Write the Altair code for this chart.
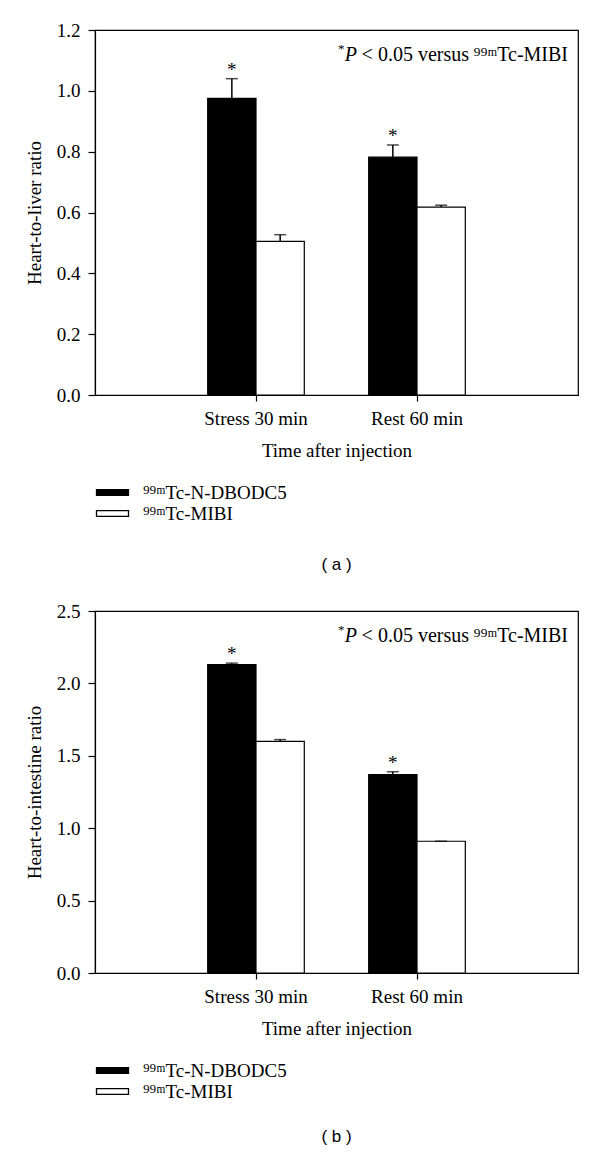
import altair as alt
import pandas as pd

categories = ["Stress 30 min", "Rest 60 min"]
series = ["⁹⁹ᵐTc-N-DBODC5", "⁹⁹ᵐTc-MIBI"]
stars_dbodc5 = ["*", "*"]

# Panel (a): heart-to-liver ratio
a_dbodc5 = [0.975, 0.782]
a_dbodc5_err = [0.065, 0.040]
a_mibi = [0.505, 0.618]
a_mibi_err = [0.022, 0.006]

# Panel (b): heart-to-intestine ratio
b_dbodc5 = [2.13, 1.37]
b_dbodc5_err = [0.010, 0.020]
b_mibi = [1.60, 0.91]
b_mibi_err = [0.012, 0.0]

a_ticks = [0.0, 0.2, 0.4, 0.6, 0.8, 1.0, 1.2]
b_ticks = [0.0, 0.5, 1.0, 1.5, 2.0, 2.5]

FONT = "Liberation Serif"
FS = 19
AFS = 20


def frame(d, d_err, m, m_err):
    rows = []
    for i, c in enumerate(categories):
        rows.append(dict(cat=c, series=series[0], value=d[i], upper=d[i] + d_err[i], star=stars_dbodc5[i]))
        rows.append(dict(cat=c, series=series[1], value=m[i], upper=m[i] + m_err[i], star=""))
    return pd.DataFrame(rows)


def panel(df, ymax, yvals, ytitle, label, h, title_offset):
    x = alt.X("cat:N", sort=categories, title="Time after injection",
              scale=alt.Scale(paddingInner=0.4, paddingOuter=0.7),
              axis=alt.Axis(labelAngle=0, tickSize=6, labelPadding=8, titlePadding=13))
    xo = alt.XOffset("series:N", sort=series, scale=alt.Scale(paddingInner=0, paddingOuter=0))
    y = alt.Y("value:Q", scale=alt.Scale(domain=[0, ymax], nice=False, zero=True), title=ytitle,
              axis=alt.Axis(values=yvals, format=".1f", tickSize=7, labelPadding=8, titlePadding=12))
    base = alt.Chart(df)
    bars = base.mark_bar(stroke="black", strokeWidth=1.2).encode(
        x=x, xOffset=xo, y=y,
        fill=alt.Fill("series:N", sort=series,
                      scale=alt.Scale(domain=series, range=["black", "white"]),
                      legend=alt.Legend(orient="none", legendX=8, legendY=h + 88, title=None,
                                        symbolType="M-2,-0.36H2V0.36H-2Z", symbolSize=256,
                                        symbolStrokeColor="black", symbolStrokeWidth=1.3,
                                        symbolOpacity=1, labelFont=FONT, labelFontSize=FS,
                                        labelColor="black", labelOffset=21, rowPadding=1,
                                        padding=0)),
    )
    err = base.mark_rule(color="black", strokeWidth=1.5).encode(
        x=x, xOffset=xo, y="value:Q", y2="upper:Q")
    caps = base.mark_tick(color="black", thickness=1.5, size=12, orient="horizontal").encode(
        x=x, xOffset=xo, y="upper:Q")
    stars = base.mark_text(baseline="alphabetic", dy=-3, fontSize=FS, font=FONT, color="black").encode(
        x=x, xOffset=xo, y="upper:Q", text="star:N")

    one = alt.Chart(pd.DataFrame({"k": [0]}))
    ann_star = one.mark_text(align="left", baseline="alphabetic", fontSize=13, font=FONT, color="black").encode(
        x=alt.value(243), y=alt.value(23), text=alt.value("*"))
    ann_p = one.mark_text(align="right", baseline="alphabetic", fontSize=AFS, font=FONT, fontStyle="italic",
                          color="black").encode(x=alt.value(262), y=alt.value(31), text=alt.value("P"))
    ann_mid = one.mark_text(align="right", baseline="alphabetic", fontSize=AFS, font=FONT, color="black").encode(
        x=alt.value(374), y=alt.value(31), text=alt.value("< 0.05 versus"))
    ann_end = one.mark_text(align="right", baseline="alphabetic", fontSize=AFS, font=FONT, color="black").encode(
        x=alt.value(473), y=alt.value(31), text=alt.value("⁹⁹ᵐTc-MIBI"))

    return alt.layer(bars, err, caps, stars, ann_star, ann_p, ann_mid, ann_end).properties(
        width=483, height=h,
        title=alt.TitleParams(text=label, orient="bottom", anchor="middle", font="Liberation Sans",
                              fontSize=17, fontWeight="normal", color="black", offset=title_offset),
    )


pa = panel(frame(a_dbodc5, a_dbodc5_err, a_mibi, a_mibi_err), 1.2, a_ticks,
           "Heart-to-liver ratio", "( a )", 365, 33)
pb = panel(frame(b_dbodc5, b_dbodc5_err, b_mibi, b_mibi_err), 2.5, b_ticks,
           "Heart-to-intestine ratio", "( b )", 362, 27)

chart = alt.vconcat(pa, pb, spacing=27).resolve_scale(fill="independent").resolve_legend(
    fill="independent"
).properties(
    padding={"left": 16, "top": 12, "right": 2, "bottom": 1}
).configure(font=FONT).configure_view(
    stroke="black", strokeWidth=1.2
).configure_axis(
    grid=False, domainColor="black", domainWidth=1.2, tickColor="black", tickWidth=1.2,
    labelColor="black", titleColor="black", labelFont=FONT, titleFont=FONT,
    labelFontSize=FS, titleFontSize=FS, titleFontWeight="normal"
)

chart.save("out.html", embed_options={"renderer": "svg", "actions": False})
